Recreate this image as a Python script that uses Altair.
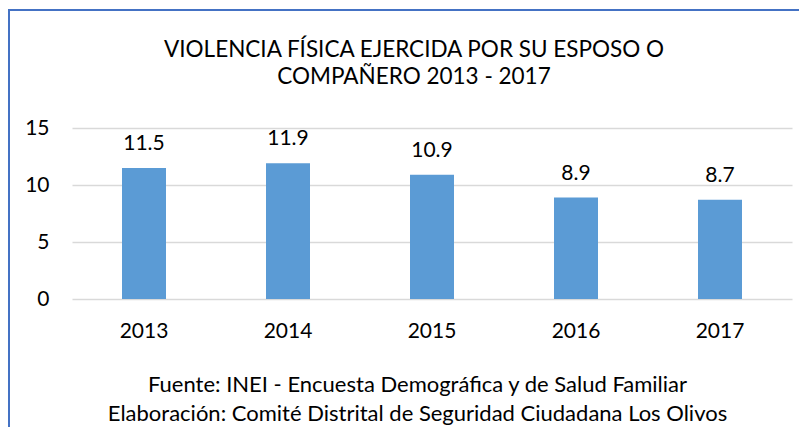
import altair as alt
import pandas as pd

years = ["2013", "2014", "2015", "2016", "2017"]
values = [11.5, 11.9, 10.9, 8.9, 8.7]
y_ticks = [0, 5, 10, 15]
title_lines = ["VIOLENCIA FÍSICA EJERCIDA POR SU ESPOSO O", "COMPAÑERO 2013 - 2017"]
footer_lines = [
    "Fuente: INEI - Encuesta Demográfica y de Salud Familiar",
    "Elaboración: Comité Distrital de Seguridad Ciudadana Los Olivos",
]

df = pd.DataFrame({"year": years, "value": values})
FONT = "Lato"
TXT = "#000000"

x_enc = alt.X(
    "year:N",
    sort=years,
    scale=alt.Scale(paddingInner=0, paddingOuter=0),
    axis=alt.Axis(
        title=footer_lines,
        labelAngle=0,
        ticks=False,
        tickSize=0,
        domain=False,
        labelPadding=38,
        labelBaseline="alphabetic",
        labelFontSize=21,
        labelFont=FONT,
        labelColor=TXT,
        titleFont=FONT,
        titleFontSize=22,
        titleFontWeight="normal",
        titleColor=TXT,
        titleX=345,
        titleY=92,
        titleBaseline="alphabetic",
        titleLineHeight=29,
        titleAlign="center",
    ),
)
y_enc = alt.Y(
    "value:Q",
    scale=alt.Scale(domain=[0, 15]),
    axis=alt.Axis(
        values=y_ticks,
        title=None,
        ticks=False,
        tickSize=0,
        domain=False,
        labelPadding=23,
        labelFontSize=21,
        labelFont=FONT,
        labelColor=TXT,
        gridColor="#D9D9D9",
        gridWidth=1.5,
    ),
)

base = alt.Chart(df)
bars = base.mark_bar(color="#5B9BD5", size=44).encode(x=x_enc, y=y_enc)
labels = base.mark_text(
    dy=-18, baseline="alphabetic", fontSize=21, font=FONT, color=TXT
).encode(x=x_enc, y=y_enc, text=alt.Text("value:Q", format=".1f"))

border = alt.Chart(pd.DataFrame({"k": [0]})).mark_rect(
    fillOpacity=0, stroke="#4472C4", strokeWidth=2
).encode(
    x=alt.value(-63), x2=alt.value(800), y=alt.value(-118), y2=alt.value(400)
)

chart = (
    alt.layer(border, bars, labels)
    .properties(
        width=720,
        height=171,
        title=alt.TitleParams(
            text=title_lines,
            font=FONT,
            fontSize=22.5,
            fontWeight="normal",
            color=TXT,
            anchor="middle",
            dx=-18,
            dy=97,
            offset=0,
            lineHeight=27,
            baseline="alphabetic",
        ),
        autosize=alt.AutoSizeParams(type="none"),
        padding={"left": 64, "top": 120, "right": 7, "bottom": 128},
        background="white",
    )
    .configure_view(strokeWidth=0)
)

chart.save("out.html", embed_options={"renderer": "svg", "actions": False})
